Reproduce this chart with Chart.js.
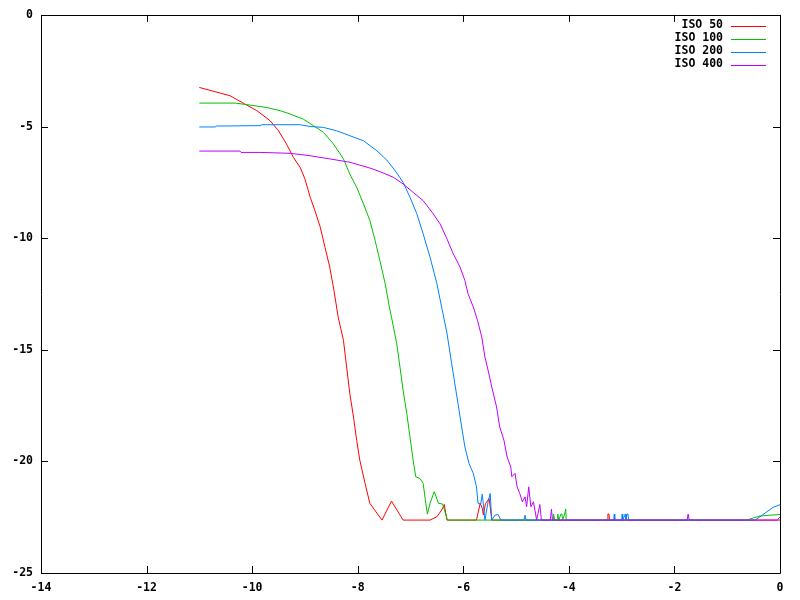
<!DOCTYPE html>
<html>
<head>
<meta charset="utf-8">
<script src="https://cdn.jsdelivr.net/npm/chart.js@4.4.0/dist/chart.umd.min.js"></script>
<style>
  html, body { margin: 0; padding: 0; background: #fff; }
  #wrap { width: 800px; height: 600px; }
</style>
</head>
<body>
<div id="wrap"><canvas id="isoChart"></canvas></div>
<script>
// series (x = exposure, y = level)
var seriesNames = ['ISO 50', 'ISO 100', 'ISO 200', 'ISO 400'];
var seriesColors = ['#ff0000', '#00c000', '#0080ff', '#c000ff'];

var redX = [-11.0,-10.42,-10.14,-9.91,-9.66,-9.50,-9.35,-9.22,-9.09,-9.00,-8.90,-8.81,-8.71,-8.62,-8.53,-8.45,-8.37,-8.27,-8.21,-8.15,-8.08,-8.02,-7.96,-7.86,-7.77,-7.54,-7.36,-7.14,-6.63,-6.50,-6.41,-6.36,-6.31,-5.75,-5.68,-5.64,-5.62,-5.58,-5.51,-5.46,-3.27,-3.26,-3.24,-3.23,0];
var redY = [-3.25,-3.62,-3.99,-4.29,-4.74,-5.19,-5.78,-6.38,-6.83,-7.35,-8.17,-8.77,-9.51,-10.41,-11.30,-12.34,-13.54,-14.58,-15.77,-16.96,-18.01,-19.05,-19.95,-20.99,-21.88,-22.63,-21.78,-22.63,-22.63,-22.48,-22.18,-21.93,-22.63,-22.63,-21.88,-22.10,-22.40,-21.90,-21.66,-22.63,-22.63,-22.36,-22.36,-22.63,-22.63];

var greenX = [-11.0,-10.32,-10.04,-9.72,-9.47,-9.28,-9.03,-8.84,-8.65,-8.46,-8.27,-8.15,-8.02,-7.89,-7.77,-7.67,-7.58,-7.48,-7.40,-7.36,-7.26,-7.20,-7.14,-7.07,-7.01,-6.95,-6.90,-6.82,-6.76,-6.71,-6.68,-6.63,-6.55,-6.47,-6.39,-6.30,-4.30,-4.29,-4.27,-4.22,-4.21,-4.19,-4.15,-4.13,-4.12,-4.08,-4.06,-4.05,-0.63,-0.50,-0.38,-0.19,0];
var greenY = [-3.95,-3.95,-4.04,-4.15,-4.29,-4.44,-4.67,-4.96,-5.26,-5.78,-6.45,-7.13,-7.72,-8.47,-9.21,-10.11,-11.00,-12.04,-13.09,-13.54,-14.73,-15.77,-16.82,-17.86,-18.90,-19.95,-20.69,-20.77,-20.99,-21.88,-22.36,-21.88,-21.36,-21.88,-21.91,-22.63,-22.63,-22.36,-22.63,-22.63,-22.36,-22.63,-22.36,-22.36,-22.63,-22.36,-22.14,-22.63,-22.63,-22.53,-22.45,-22.41,-22.38];

var blueX = [-11.0,-10.70,-10.68,-9.85,-9.82,-9.09,-8.90,-8.65,-8.40,-8.15,-7.89,-7.64,-7.45,-7.29,-7.14,-7.01,-6.88,-6.76,-6.63,-6.50,-6.41,-6.31,-6.22,-6.16,-6.10,-6.03,-5.97,-5.89,-5.81,-5.75,-5.72,-5.67,-5.64,-5.59,-5.53,-5.49,-5.46,-5.40,-5.34,-5.29,-4.85,-4.83,-4.81,-3.15,-3.14,-3.13,-3.00,-2.99,-2.98,-2.93,-2.92,-2.90,-2.88,-2.87,-0.47,-0.38,-0.25,-0.13,0];
var blueY = [-5.02,-5.02,-4.98,-4.96,-4.92,-4.92,-5.00,-5.04,-5.19,-5.41,-5.64,-6.08,-6.50,-6.98,-7.50,-8.17,-8.91,-9.81,-10.85,-12.04,-13.09,-14.25,-15.62,-16.52,-17.41,-18.46,-19.35,-20.10,-20.54,-21.14,-21.88,-21.91,-21.47,-22.63,-21.81,-21.44,-22.63,-22.41,-22.38,-22.63,-22.63,-22.41,-22.63,-22.63,-22.36,-22.63,-22.63,-22.36,-22.63,-22.36,-22.63,-22.36,-22.36,-22.63,-22.63,-22.48,-22.26,-22.06,-21.94];

var purpleX = [-11.0,-10.23,-10.21,-9.85,-9.28,-8.90,-8.53,-8.15,-7.77,-7.58,-7.33,-7.14,-6.95,-6.76,-6.57,-6.44,-6.31,-6.19,-6.06,-5.97,-5.91,-5.81,-5.73,-5.65,-5.59,-5.53,-5.46,-5.37,-5.31,-5.23,-5.17,-5.10,-5.08,-5.02,-4.98,-4.93,-4.88,-4.83,-4.80,-4.76,-4.72,-4.67,-4.61,-4.55,-4.52,-4.35,-4.33,-4.31,-1.76,-1.74,-1.72,-0.05,0];
var purpleY = [-6.10,-6.10,-6.16,-6.16,-6.20,-6.31,-6.45,-6.60,-6.86,-7.02,-7.27,-7.57,-7.95,-8.32,-8.91,-9.36,-10.03,-10.70,-11.30,-11.90,-12.49,-13.09,-13.69,-14.43,-15.33,-15.92,-16.67,-17.56,-18.46,-19.05,-19.80,-20.25,-20.69,-20.54,-21.14,-21.44,-21.81,-21.59,-22.03,-21.14,-22.03,-21.81,-22.63,-21.93,-22.63,-22.63,-22.14,-22.63,-22.63,-22.36,-22.63,-22.63,-22.48];

var xTicks = [-14, -12, -10, -8, -6, -4, -2, 0];
var yTicks = [-25, -20, -15, -10, -5, 0];

var tickFont = { family: '"DejaVu Sans Mono", "Liberation Mono", monospace', size: 11.5, weight: 'bold' };

function pairs(xs, ys) {
  return xs.map(function (x, i) { return { x: x, y: ys[i] }; });
}

var allX = [redX, greenX, blueX, purpleX];
var allY = [redY, greenY, blueY, purpleY];

var datasets = seriesNames.map(function (name, i) {
  return {
    label: name,
    data: pairs(allX[i], allY[i]),
    borderColor: seriesColors[i],
    backgroundColor: seriesColors[i],
    borderWidth: 1,
    pointRadius: 0,
    tension: 0,
    fill: false,
    order: seriesNames.length - i   // later series painted on top, like gnuplot
  };
});

// gnuplot style frame, inward ticks on all four sides
const gnuFrame = {
  id: 'gnuFrame',
  afterDatasetsDraw(chart) {
    const { ctx, chartArea: a, scales } = chart;
    const len = 7;
    ctx.save();
    ctx.strokeStyle = '#000';
    ctx.lineWidth = 1;
    ctx.beginPath();
    ctx.rect(Math.round(a.left) + 0.5, Math.round(a.top) + 0.5,
             Math.round(a.right - a.left), Math.round(a.bottom - a.top));
    xTicks.forEach(function (v) {
      const px = Math.round(scales.x.getPixelForValue(v)) + 0.5;
      ctx.moveTo(px, a.bottom); ctx.lineTo(px, a.bottom - len);
      ctx.moveTo(px, a.top); ctx.lineTo(px, a.top + len);
    });
    yTicks.forEach(function (v) {
      const py = Math.round(scales.y.getPixelForValue(v)) + 0.5;
      ctx.moveTo(a.left, py); ctx.lineTo(a.left + len, py);
      ctx.moveTo(a.right, py); ctx.lineTo(a.right - len, py);
    });
    ctx.stroke();

    // key, top right
    ctx.font = 'bold 11.5px ' + tickFont.family;
    ctx.textAlign = 'right';
    ctx.textBaseline = 'middle';
    seriesNames.forEach(function (name, i) {
      const y = 25.5 + i * 13;
      ctx.fillStyle = '#000';
      ctx.fillText(name, 723, y);
      ctx.strokeStyle = seriesColors[i];
      ctx.beginPath();
      ctx.moveTo(731, Math.round(y) + 0.5);
      ctx.lineTo(766, Math.round(y) + 0.5);
      ctx.stroke();
    });
    ctx.restore();
  }
};

var ctx = document.getElementById('isoChart').getContext('2d');

var isoChart = new Chart(ctx, {
  type: 'line',
  data: { datasets: datasets },
  options: {
    responsive: true,
    maintainAspectRatio: false,
    animation: false,
    layout: { padding: { top: 14, right: 20, left: 0, bottom: 0 } },
    plugins: { legend: { display: false }, tooltip: { enabled: false } },
    scales: {
      x: {
        type: 'linear',
        min: -14,
        max: 0,
        afterBuildTicks: function (scale) { scale.ticks = xTicks.map(function (v) { return { value: v }; }); },
        afterFit: function (scale) { scale.height = 27; },
        grid: { display: false, drawTicks: false },
        border: { display: false },
        ticks: {
          color: '#000',
          font: tickFont,
          padding: 8,
          maxRotation: 0,
          callback: function (v) { return String(v); }
        }
      },
      y: {
        type: 'linear',
        min: -25,
        max: 0,
        afterBuildTicks: function (scale) { scale.ticks = yTicks.map(function (v) { return { value: v }; }); },
        afterFit: function (scale) { scale.width = 41; },
        grid: { display: false, drawTicks: false },
        border: { display: false },
        ticks: {
          color: '#000',
          font: tickFont,
          padding: 8,
          callback: function (v) { return String(v); }
        }
      }
    }
  },
  plugins: [gnuFrame]
});
</script>
</body>
</html>
